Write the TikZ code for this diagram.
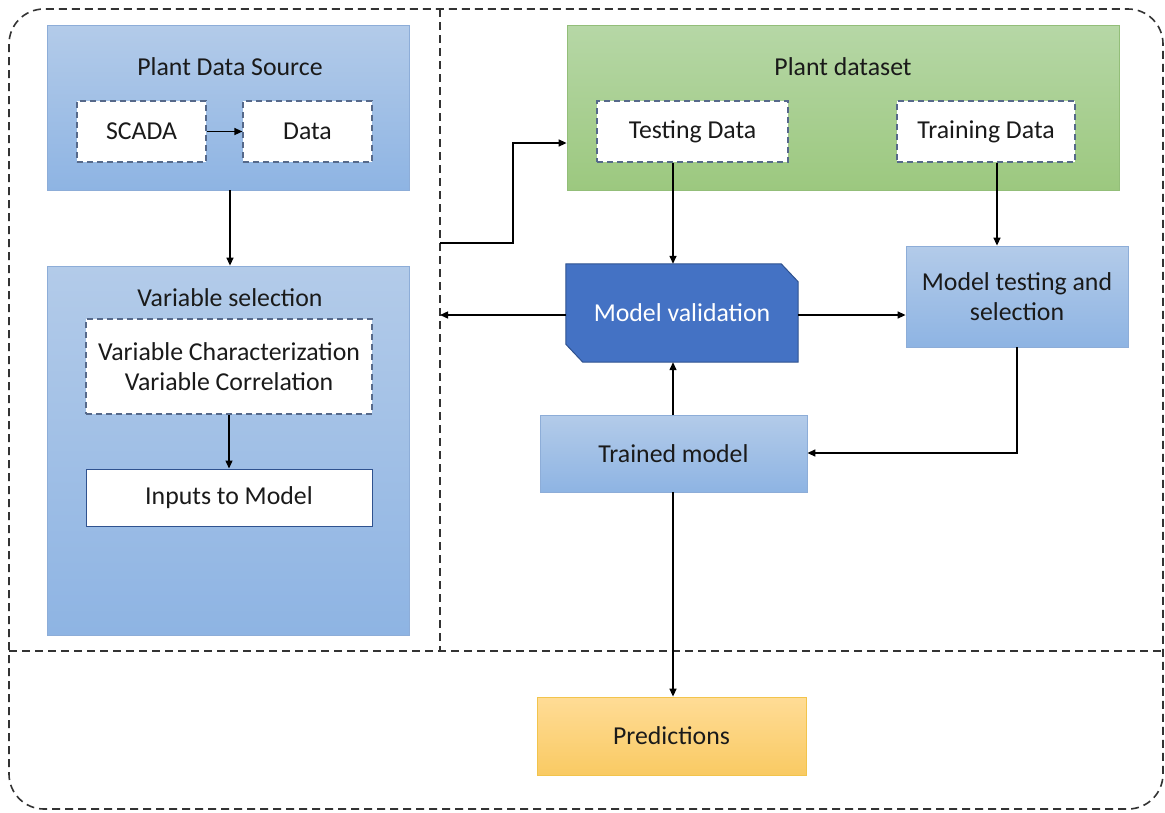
\documentclass[tikz,border=0pt]{standalone}
\usepackage{fontspec}
\setmainfont{Carlito}
\usetikzlibrary{arrows.meta,calc}
\definecolor{bluetop}{HTML}{B3CBE9}
\definecolor{bluebot}{HTML}{8EB4E3}
\definecolor{blueline}{HTML}{8DADD8}
\definecolor{greentop}{HTML}{B6D7A6}
\definecolor{greenbot}{HTML}{9CC87F}
\definecolor{greenline}{HTML}{93BE79}
\definecolor{yeltop}{HTML}{FFDC96}
\definecolor{yelbot}{HTML}{F9CA63}
\definecolor{yelline}{HTML}{F2C44C}
\definecolor{dashcol}{HTML}{56698A}
\definecolor{mvfill}{HTML}{4472C4}
\definecolor{mvline}{HTML}{2F528F}
\definecolor{txt}{HTML}{1A1A1A}
\definecolor{frame}{HTML}{333333}
\begin{document}
\begin{tikzpicture}[x=1pt,y=-1pt,
  every node/.style={font=\fontsize{25.8}{30.5}\selectfont, text=txt, align=center, inner sep=0pt},
  bluebox/.style={draw=blueline, line width=0.8pt, top color=bluetop, bottom color=bluebot},
  greenbox/.style={draw=greenline, line width=0.8pt, top color=greentop, bottom color=greenbot},
  yelbox/.style={draw=yelline, line width=0.8pt, top color=yeltop, bottom color=yelbot},
  dashbox/.style={draw=dashcol, fill=white, line width=1.2pt, dash pattern=on 6pt off 4pt},
  solidbox/.style={draw=mvline, fill=white, line width=1pt},
  framedash/.style={draw=frame, line width=1.6pt, dash pattern=on 8pt off 5pt},
  conn/.style={draw=black, line width=1.4pt, -{Triangle[length=8pt,width=7pt]}}
]
\useasboundingbox (0,0) rectangle (1165,812);
% frame
\draw[framedash, rounded corners=35pt] (9,9) rectangle (1163,809);
\draw[framedash] (9,651) -- (1163,651);
\draw[framedash] (440,9) -- (440,651);

% left column
\node[bluebox, minimum width=362pt, minimum height=165pt] (pds) at (228,107.5) {};
\node (pdst) at (230,67) {Plant Data Source};
\node[dashbox, minimum width=129pt, minimum height=61pt] (scada) at (141.5,131.5) {SCADA};
\node[dashbox, minimum width=129pt, minimum height=61pt] (data) at (307.5,131.5) {Data};

\node[bluebox, minimum width=362pt, minimum height=369pt] (vs) at (228,450.5) {};
\node (vst) at (230,298) {Variable selection};
\node[dashbox, minimum width=286pt, minimum height=95pt] (vc) at (229,366.5) {Variable Characterization\\Variable Correlation};
\node[solidbox, minimum width=286pt, minimum height=57pt] (itm) at (229,497.5) {Inputs to Model};

% right column
\node[greenbox, minimum width=552pt, minimum height=165pt] (pd) at (843,107.5) {};
\node (pdt) at (843,67) {Plant dataset};
\node[dashbox, minimum width=191pt, minimum height=61pt] (td) at (692.5,131.5) {Testing Data};
\node[dashbox, minimum width=178pt, minimum height=61pt] (trd) at (986,131.5) {Training Data};

\node[minimum width=232pt, minimum height=98pt] (mv) at (682,313) {};
\fill[mvfill, draw=mvline, line width=1pt]
  (mv.north west) -- ($(mv.north east)+(-17,0)$) -- ($(mv.north east)+(0,18)$)
  -- (mv.south east) -- ($(mv.south west)+(17,0)$) -- ($(mv.south west)+(0,-18)$) -- cycle;
\node[text=white] at (mv.center) {Model validation};

\node[bluebox, minimum width=222pt, minimum height=101pt] (mts) at (1017,296.5) {Model testing and\\selection};
\node[bluebox, minimum width=267pt, minimum height=77pt] (tm) at (673.5,453.5) {Trained model};
\node[yelbox, minimum width=269pt, minimum height=78pt] (pred) at (671.5,736) {Predictions};

% coordinates on the dashed divider
\coordinate (div1) at (440,243);
\coordinate (div2) at (440,315);
\coordinate (bend) at (513,243);

% connectors
\draw[conn] (scada.east) -- (data.west);
\draw[conn] (pds.south -| pdst) -- (vs.north -| pdst);
\draw[conn] (vc.south) -- (itm.north);
\draw[conn] (td.south -| 673,0) -- (mv.north -| 673,0);
\draw[conn] (trd.south -| 997,0) -- (mts.north -| 997,0);
\draw[conn] (mv.east |- 0,315) -- (mts.west |- 0,315);
\draw[conn] (mv.west |- div2) -- (div2);
\draw[conn] (mts.south) -- (mts.south |- 0,453) -- (tm.east |- 0,453);
\draw[conn] (tm.north -| 673,0) -- (mv.south -| 673,0);
\draw[conn] (tm.south -| 673,0) -- (pred.north -| 673,0);
\draw[conn] (div1) -- (bend) -- (bend |- 0,143) -- (pd.west |- 0,143);
\end{tikzpicture}
\end{document}
